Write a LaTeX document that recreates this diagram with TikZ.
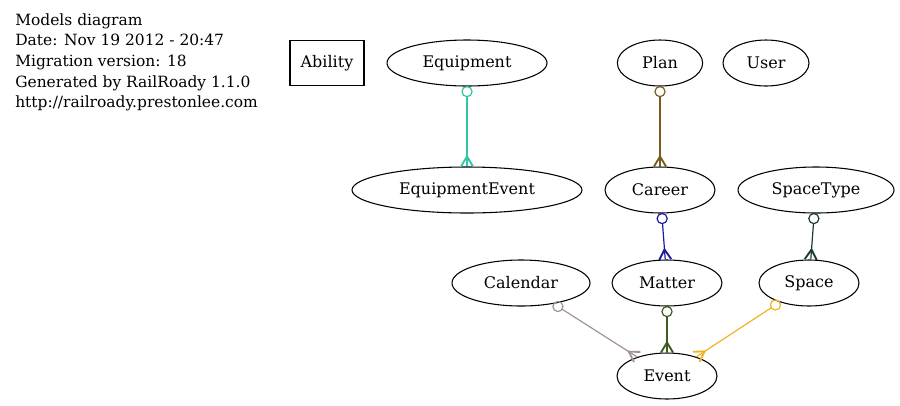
\documentclass[tikz,border=0pt]{standalone}
\usepackage{fontspec}
\setmainfont{DejaVu Serif}
\usetikzlibrary{shapes.geometric,calc}
\definecolor{cTeal}{RGB}{46,198,163}
\definecolor{cBrown}{RGB}{120,92,30}
\definecolor{cBlue}{RGB}{26,26,160}
\definecolor{cDkGreen}{RGB}{27,61,46}
\definecolor{cMauve}{RGB}{163,148,148}
\definecolor{cOlive}{RGB}{61,92,30}
\definecolor{cOrange}{RGB}{240,179,35}
\newcommand\crowrel[3]{%
  \path (#2) -- coordinate[pos=0](rt) coordinate[pos=1](rh) (#3);
  \draw[#1,line width=0.9pt] ($(rt)!3.8pt!(rh)$) circle[radius=3.8pt];
  \draw[#1,line width=0.9pt] ($(rt)!7.6pt!(rh)$) -- (rh);
  \draw[#1,line width=1.4pt,line join=miter] ($(rh)!4.5pt!90:(rt)$) -- ($(rh)!7.5pt!(rt)$) -- ($(rh)!4.5pt!-90:(rt)$);
}
\tikzset{
  model/.style={ellipse,draw=black,line width=0.8pt,minimum height=34.5pt,inner sep=0pt,font=\fontsize{12}{14}\selectfont},
  modelbox/.style={rectangle,draw=black,line width=0.8pt,minimum height=33.75pt,minimum width=55.5pt,inner sep=0pt,font=\fontsize{12}{14}\selectfont},
}
\begin{document}
\begin{tikzpicture}[x=0.75pt,y=-0.75pt]
\useasboundingbox (0,0) rectangle (900,405);
\node[anchor=north west,align=left,inner sep=0pt,font=\fontsize{11.6}{15.5}\selectfont] (info) at (15,13)
  {Models diagram\\Date: Nov 19 2012 - 20:47\\Migration version: 18\\Generated by RailRoady 1.1.0\\http://railroady.prestonlee.com};
\node[modelbox] (Ability) at (327,63) {Ability};
\node[model,minimum width=120pt] (Equipment) at (467,63) {Equipment};
\node[model,minimum width=64pt] (Plan) at (660,63) {Plan};
\node[model,minimum width=64.5pt] (User) at (766,63) {User};
\node[model,minimum width=172.5pt] (EquipmentEvent) at (467,190) {EquipmentEvent};
\node[model,minimum width=82.5pt] (Career) at (660,190) {Career};
\node[model,minimum width=117pt] (SpaceType) at (816,190) {SpaceType};
\node[model,minimum width=103.5pt] (Calendar) at (521,283) {Calendar};
\node[model,minimum width=82.5pt] (Matter) at (667,283) {Matter};
\node[model,minimum width=75pt] (Space) at (809,283) {Space};
\node[model,minimum width=75pt] (Event) at (667,376) {Event};
\crowrel{cTeal}{Equipment}{EquipmentEvent}
\crowrel{cBrown}{Plan}{Career}
\crowrel{cBlue}{Career}{Matter}
\crowrel{cDkGreen}{SpaceType}{Space}
\crowrel{cMauve}{Calendar}{Event}
\crowrel{cOlive}{Matter}{Event}
\crowrel{cOrange}{Space}{Event}
\end{tikzpicture}
\end{document}
